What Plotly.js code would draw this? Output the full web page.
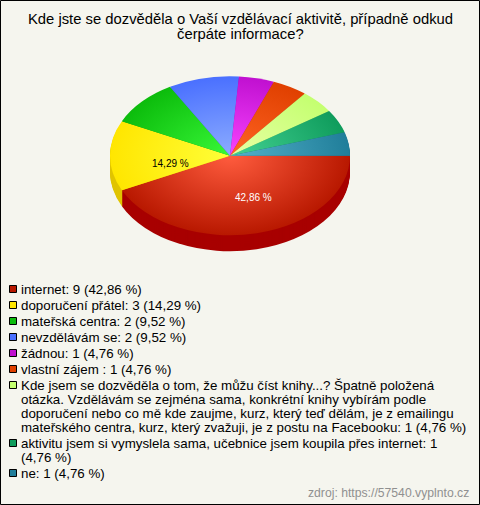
<!DOCTYPE html>
<html><head><meta charset="utf-8">
<script src="https://cdn.plot.ly/plotly-3.0.1.min.js"></script>
<style>html,body{margin:0;padding:0;background:#f5f5ee}#c{width:480px;height:505px}</style>
</head><body><div id="c"></div>
<script>
const categories = ["internet","doporučení přátel","mateřská centra","nevzdělávám se","žádnou","vlastní zájem ","Kde jsem se dozvěděla o tom, že můžu číst knihy...? Špatně položená otázka. Vzdělávám se zejména sama, konkrétní knihy vybírám podle doporučení nebo co mě kde zaujme, kurz, který teď dělám, je z emailingu mateřského centra, kurz, který zvažuji, je z postu na Facebooku","aktivitu jsem si vymyslela sama, učebnice jsem koupila přes internet","ne"];
const counts = [9,3,2,2,1,1,1,1,1];
const baseColors = ["#b81800","#ffe600","#0cbc0c","#4a70ff","#c010d0","#e04000","#c4ff70","#0f9c5c","#207e9a"];
const lightColors = ["#ff5c3e","#ffff38","#38f838","#8cacff","#f844ff","#ff6424","#e8ffa4","#44d294","#54b2ca"];
const sideColors = ["#a80000","#e0c400","#0a9a0a","#3a58d0","#9a0cA8","#b83000","#a0d058","#0c804a","#18667e"];
const legendWraps = [[],[],[],[],[],[],
 ["Kde jsem se dozvěděla o tom, že můžu číst knihy...? Špatně položená","otázka. Vzdělávám se zejména sama, konkrétní knihy vybírám podle","doporučení nebo co mě kde zaujme, kurz, který teď dělám, je z emailingu","mateřského centra, kurz, který zvažuji, je z postu na Facebooku"],
 ["aktivitu jsem si vymyslela sama, učebnice jsem koupila přes internet: 1","(4,76 %)"],[]];
const titleLines = ["Kde jste se dozvěděla o Vaší vzdělávací aktivitě, případně odkud","čerpáte informace?"];
const sourceText = "zdroj: https://57540.vyplnto.cz";

const W=480,H=505,R=120,CX=230,CYU=130,CYS=155.7,SQ=0.6625,DEPTH=16;
const FONT='"Liberation Sans",Arial,sans-serif';
const total=counts.reduce((a,b)=>a+b,0);
const pct=v=>(v/total*100).toFixed(2).replace('.',',')+' %';
const dom=off=>({x:[(CX-R)/W,(CX+R)/W],y:[1-(CYU+off+R)/H,1-(CYU+off-R)/H]});
const pie=(colors,off)=>({type:'pie',labels:categories,values:counts,sort:false,direction:'clockwise',rotation:90,
  textinfo:'none',hoverinfo:'none',showlegend:false,domain:dom(off),marker:{colors:colors,line:{width:0}}});
const traces=[];
for(let d=DEPTH;d>=1;d--) traces.push(pie(sideColors,d/SQ));
traces.push(pie(baseColors,0));

const px=x=>x/W, py=y=>1-y/H;
const ann=[],shapes=[];
const txt=(t,x,y,size,color,anchor)=>ann.push({text:t,xref:'paper',yref:'paper',x:px(x),y:py(y),xanchor:anchor||'left',yanchor:'middle',showarrow:false,align:'left',font:{family:FONT,size:size,color:color},borderpad:0});
titleLines.forEach((t,i)=>txt(t,240,[19,34][i],14.8,'#000','center'));
txt(pct(counts[0]),253,197,10,'#fff','center');
txt(pct(counts[1]),170,163,10,'#000','center');
let y=289;
categories.forEach((c,i)=>{
  const suffix=': '+counts[i]+' ('+pct(counts[i])+')';
  const wrap=legendWraps[i];
  shapes.push({type:'rect',xref:'paper',yref:'paper',x0:px(9.5),x1:px(16.5),y0:py(y+3.5),y1:py(y-3.5),fillcolor:baseColors[i],line:{color:'#000',width:1}});
  if(!wrap.length){txt(c+suffix,20,y,13.33,'#000');y+=16;}
  else{
    wrap.forEach((l,j)=>{
      const isLast=j===wrap.length-1;
      const out=(i===6&&isLast)?l+suffix:l;
      txt(out,20,y,13.33,'#000');
      y+=isLast?16:14;
    });
  }
});
txt(sourceText,470,493,12.2,'#909090','right');
shapes.push({type:'rect',xref:'paper',yref:'paper',x0:px(0.5),x1:px(W-0.5),y0:py(0.5),y1:py(H-0.5),line:{color:'#000',width:1},fillcolor:'rgba(0,0,0,0)'});

Plotly.newPlot('c',traces,{width:W,height:H,margin:{l:0,r:0,t:0,b:0},paper_bgcolor:'#f5f5ee',plot_bgcolor:'#f5f5ee',annotations:ann,shapes:shapes,showlegend:false},{staticPlot:true,displayModeBar:false}).then(gd=>{
  const layer=gd.querySelector('.pielayer');
  layer.setAttribute('transform',`translate(0,${CYS}) scale(1,${SQ}) translate(0,${-CYU})`);
  const svg=layer.ownerSVGElement, ns='http://www.w3.org/2000/svg';
  const defs=svg.querySelector('defs')||svg.insertBefore(document.createElementNS(ns,'defs'),svg.firstChild);
  baseColors.forEach((c,i)=>{
    const g=document.createElementNS(ns,'radialGradient');
    g.setAttribute('id','pg'+i);g.setAttribute('gradientUnits','userSpaceOnUse');
    g.setAttribute('cx',CX);g.setAttribute('cy',CYU);g.setAttribute('r',R);
    [[0,lightColors[i]],[1,c]].forEach(([o,col])=>{const s=document.createElementNS(ns,'stop');s.setAttribute('offset',o);s.setAttribute('stop-color',col);g.appendChild(s);});
    defs.appendChild(g);
  });
  const tr=layer.querySelectorAll('.trace');
  tr[tr.length-1].querySelectorAll('path.surface').forEach((p,i)=>{p.style.fill='url(#pg'+i+')';});
});
</script></body></html>
